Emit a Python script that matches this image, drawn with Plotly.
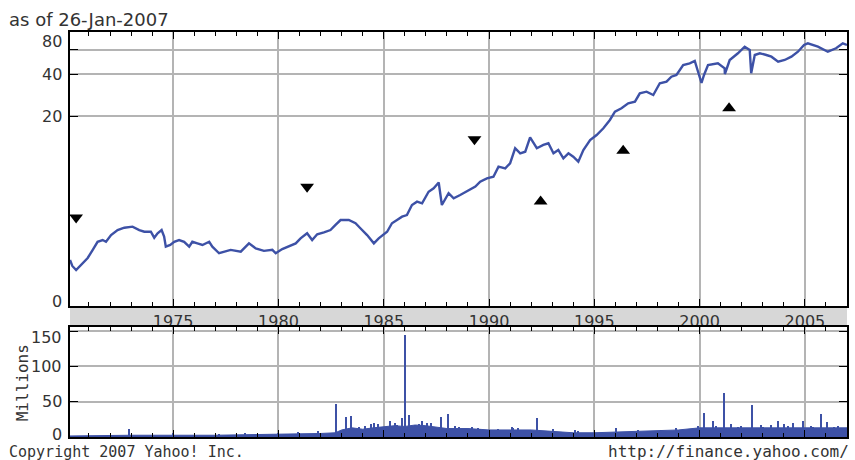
import numpy as np
import plotly.graph_objects as go

# ---------------- data ----------------
price_years = [1970.10, 1970.21, 1970.39, 1970.63, 1970.94, 1971.18, 1971.41, 1971.65, 1971.81, 1972.05,
               1972.36, 1972.68, 1973.07, 1973.39, 1973.63, 1973.94, 1974.10, 1974.26, 1974.45, 1974.57,
               1974.65, 1974.86, 1975.05, 1975.28, 1975.52, 1975.76, 1975.91, 1976.15, 1976.39, 1976.71,
               1976.86, 1977.18, 1977.42, 1977.73, 1978.21, 1978.60, 1978.92, 1979.31, 1979.71, 1979.87,
               1980.18, 1980.58, 1980.82, 1981.05, 1981.36, 1981.60, 1981.84, 1982.16, 1982.47, 1982.71,
               1982.95, 1983.34, 1983.66, 1983.89, 1984.21, 1984.53, 1984.76, 1985.16, 1985.39, 1985.63,
               1985.87, 1986.10, 1986.34, 1986.58, 1986.82, 1987.13, 1987.37, 1987.61, 1987.76, 1988.08,
               1988.32, 1988.63, 1989.03, 1989.35, 1989.58, 1989.90, 1990.21, 1990.45, 1990.77, 1991.00,
               1991.24, 1991.48, 1991.72, 1991.95, 1992.27, 1992.58, 1992.82, 1993.06, 1993.29, 1993.53,
               1993.77, 1994.00, 1994.24, 1994.48, 1994.80, 1995.11, 1995.43, 1995.74, 1995.98, 1996.29,
               1996.61, 1996.93, 1997.16, 1997.48, 1997.80, 1998.11, 1998.43, 1998.66, 1998.90, 1999.22,
               1999.53, 1999.77, 1999.93, 2000.09, 2000.21, 2000.40, 2000.87, 2001.19, 2001.20, 2001.43,
               2001.82, 2002.14, 2002.38, 2002.45, 2002.62, 2002.86, 2003.17, 2003.41, 2003.73, 2004.04,
               2004.36, 2004.67, 2004.96, 2005.14, 2005.62, 2006.09, 2006.48, 2006.80, 2007.00]
price_values = [1.09, 0.90, 0.78, 0.93, 1.16, 1.46, 1.80, 1.88, 1.80, 2.12,
                2.38, 2.51, 2.57, 2.38, 2.29, 2.29, 1.99, 2.21, 2.38, 2.04,
                1.59, 1.66, 1.80, 1.88, 1.80, 1.59, 1.80, 1.73, 1.66, 1.80,
                1.59, 1.33, 1.39, 1.46, 1.39, 1.73, 1.52, 1.42, 1.46, 1.33,
                1.49, 1.63, 1.73, 1.96, 2.21, 1.88, 2.16, 2.26, 2.38, 2.67,
                2.97, 2.97, 2.77, 2.48, 2.12, 1.73, 1.96, 2.29, 2.77, 2.97,
                3.19, 3.30, 4.05, 4.33, 4.19, 5.25, 5.60, 6.25, 4.05, 5.10,
                4.63, 4.93, 5.43, 5.78, 6.34, 6.75, 6.95, 8.34, 8.10, 8.86,
                11.55, 10.58, 10.88, 13.92, 11.55, 12.23, 12.59, 10.58, 11.21, 9.69,
                10.58, 9.96, 9.12, 11.21, 13.33, 14.53, 16.29, 18.75, 21.56, 22.83,
                24.82, 25.49, 29.31, 30.10, 28.49, 34.58, 35.50, 38.55, 39.64, 46.71,
                48.03, 49.87, 41.64, 34.75, 39.64, 46.71, 48.03, 44.26, 40.30, 50.70,
                56.56, 63.00, 59.68, 40.77, 55.02, 56.56, 55.02, 53.51, 49.31, 50.70,
                53.51, 58.06, 64.76, 66.58, 63.00, 58.06, 61.35, 66.58, 64.76]

down_years = [1970.39, 1981.36, 1989.31]
down_values = [3.13, 5.77, 13.52]
up_years = [1992.45, 1996.37, 2001.40]
up_values = [4.34, 11.05, 22.87]

vol_years = [1970.1, 1971, 1972, 1973, 1974, 1975, 1976, 1977, 1978, 1979, 1980, 1981, 1982, 1982.7,
             1983, 1983.5, 1984, 1984.5, 1985, 1985.5, 1986, 1986.5, 1987, 1987.5, 1988, 1989, 1990,
             1991, 1992, 1993, 1994, 1995, 1996, 1997, 1998, 1999, 2000, 2001, 2002, 2003, 2004, 2005,
             2006, 2007.0]
vol_values = [1.5, 2, 2, 2.5, 2.5, 3, 2.5, 2.5, 3, 3, 4, 5, 5, 6,
              10, 13, 11, 13, 14, 16, 15, 17, 16, 14, 12, 12, 10,
              10, 10, 8, 6, 6, 7, 7, 8, 10, 13, 13, 14, 13, 13, 14,
              14, 13]

spike_years = [1972.91, 1974.98, 1977.2, 1978.4, 1980.0, 1980.95, 1981.9, 1982.76, 1983.2, 1983.44,
               1983.58, 1983.83, 1984.13, 1984.4, 1984.53, 1984.76, 1985.08, 1985.33, 1985.55, 1985.63,
               1985.88, 1986.04, 1986.23, 1986.50, 1986.67, 1986.82, 1987.05, 1987.24, 1987.75, 1988.06,
               1988.40, 1988.57, 1988.71, 1989.18, 1989.51, 1989.58, 1990.45, 1991.08, 1991.17, 1991.40,
               1992.27, 1993.07, 1994.08, 1994.25, 1996.05, 1997.09, 1997.56, 1997.72, 1998.19, 1998.88,
               1999.93, 2000.22, 2000.64, 2000.80, 2001.16, 2001.51, 2001.82, 2001.98, 2002.5, 2002.93,
               2003.0, 2003.40, 2003.72, 2004.04, 2004.19, 2004.43, 2004.9, 2005.30, 2005.38, 2005.8,
               2006.05, 2006.41, 2006.56, 2006.88]
spike_values = [11, 6, 4, 5, 6, 7, 8, 47, 29, 30,
                12, 14, 15, 18, 20, 18, 14, 23, 20, 17,
                27, 145, 31, 17, 18, 22, 20, 20, 28, 32,
                15, 14, 12, 14, 13, 12, 12, 14, 13, 13,
                27, 12, 10, 8, 13, 10, 9, 9, 10, 13,
                16, 34, 22, 16, 62, 18, 14, 16, 46, 17,
                14, 17, 23, 18, 15, 20, 23, 15, 14, 33,
                21, 14, 16, 12]

price_ticks = [0, 20, 40, 80]
price_grid = [20, 40, 60]
volume_ticks = [0, 50, 100, 150]
year_ticks = [1975, 1980, 1985, 1990, 1995, 2000, 2005]

# ---------------- figure ----------------
BLUE = "#3d51a6"
GRID = "#b4b4b4"
FONT = "DejaVu Sans"
MONO = "DejaVu Sans Mono"


def pscale(v):
    return np.log1p(np.asarray(v, dtype=float))


fig = go.Figure()
fig.add_trace(go.Scatter(x=price_years, y=pscale(price_values), mode="lines",
                         line=dict(color=BLUE, width=2.4), xaxis="x", yaxis="y",
                         hoverinfo="skip"))
fig.add_trace(go.Scatter(x=down_years, y=pscale(down_values), mode="markers",
                         marker=dict(symbol="triangle-down", size=12, color="black"),
                         xaxis="x", yaxis="y"))
fig.add_trace(go.Scatter(x=up_years, y=pscale(up_values), mode="markers",
                         marker=dict(symbol="triangle-up", size=12, color="black"),
                         xaxis="x", yaxis="y"))
fig.add_trace(go.Scatter(x=vol_years, y=vol_values, mode="lines", fill="tozeroy",
                         fillcolor=BLUE, line=dict(color=BLUE, width=1),
                         xaxis="x2", yaxis="y2"))
fig.add_trace(go.Bar(x=spike_years, y=spike_values, width=0.07,
                     marker=dict(color=BLUE, line=dict(width=0)),
                     xaxis="x2", yaxis="y2"))

MAIN_DOM = [0.3235, 1.0]
VOL_DOM = [0.0, 0.2716]

xcommon = dict(range=[1970.1, 2007.0], tickmode="array", tickvals=year_ticks,
               ticks="inside", ticklen=7, tickcolor="black", tickwidth=1.2,
               showgrid=True, gridcolor=GRID, gridwidth=2,
               showline=True, linecolor="black", linewidth=1.5, mirror="allticks",
               zeroline=False,
               minor=dict(tick0=1970, dtick=1, ticks="inside", ticklen=4,
                          tickcolor="black", tickwidth=1.2, showgrid=False))

fig.update_layout(
    width=855, height=460,
    margin=dict(l=70, r=6, t=32, b=23),
    paper_bgcolor="white", plot_bgcolor="white",
    showlegend=False,
    bargap=0,
    font=dict(family=FONT, size=16, color="#333333"),
    xaxis=dict(domain=[0, 1], anchor="y",
               ticktext=[str(y) for y in year_ticks], showticklabels=True,
               tickfont=dict(family=FONT, size=16, color="#333333"), **xcommon),
    xaxis2=dict(domain=[0, 1], anchor="y2", matches="x", showticklabels=False, **xcommon),
    yaxis=dict(domain=MAIN_DOM, anchor="x", range=[0, float(np.log1p(80))],
               tickmode="array", tickvals=list(pscale(price_grid)), showticklabels=False,
               ticks="inside", ticklen=8, tickcolor="black", tickwidth=1.2,
               showgrid=True, gridcolor=GRID, gridwidth=2,
               showline=True, linecolor="black", linewidth=1.5, mirror="allticks",
               zeroline=False),
    yaxis2=dict(domain=VOL_DOM, anchor="x2", range=[0, 156],
                tickmode="array", tickvals=[50, 100, 150], showticklabels=False,
                ticks="inside", ticklen=8, tickcolor="black", tickwidth=1.2,
                showgrid=True, gridcolor=GRID, gridwidth=2,
                showline=True, linecolor="black", linewidth=1.5, mirror="allticks",
                zeroline=False),
)

# gray band that carries the year labels
fig.add_shape(type="rect", xref="paper", yref="paper", x0=0, x1=1,
              y0=VOL_DOM[1], y1=MAIN_DOM[0], fillcolor="#d7d7d7",
              line=dict(width=0), layer="below")

annotations = []
price_shift = {0: 4, 80: -9}
for v in price_ticks:
    annotations.append(dict(x=-0.008, xref="paper", xanchor="right",
                            y=float(np.log1p(v)), yref="y", yanchor="middle",
                            yshift=price_shift.get(v, 0), text=str(v), showarrow=False,
                            font=dict(family=FONT, size=16, color="#333333")))
vol_shift = {0: 3, 150: -6}
for v in volume_ticks:
    annotations.append(dict(x=-0.008, xref="paper", xanchor="right",
                            y=v, yref="y2", yanchor="middle",
                            yshift=vol_shift.get(v, 0), text=str(v), showarrow=False,
                            font=dict(family=FONT, size=16, color="#333333")))

annotations += [
    dict(x=-0.081, xref="paper", xanchor="left", y=1.032, yref="paper", yanchor="middle",
         text="as of 26-Jan-2007", showarrow=False,
         font=dict(family=FONT, size=18, color="#333333")),
    dict(x=-0.0616, xref="paper", xanchor="center", y=0.133, yref="paper", yanchor="middle",
         text="Millions", textangle=-90, showarrow=False,
         font=dict(family=MONO, size=16, color="#333333")),
    dict(x=-0.0809, xref="paper", xanchor="left", y=-0.036, yref="paper", yanchor="middle",
         text="Copyright 2007 Yahoo! Inc.", showarrow=False,
         font=dict(family=MONO, size=15, color="#333333")),
    dict(x=1.005, xref="paper", xanchor="right", y=-0.036, yref="paper", yanchor="middle",
         text="http://finance.yahoo.com/", showarrow=False,
         font=dict(family=MONO, size=16, color="#333333")),
]
fig.update_layout(annotations=annotations)

fig.write_html("out.html", config={"displayModeBar": False},
               post_script="document.body.style.margin='0';document.body.style.overflow='hidden';")
